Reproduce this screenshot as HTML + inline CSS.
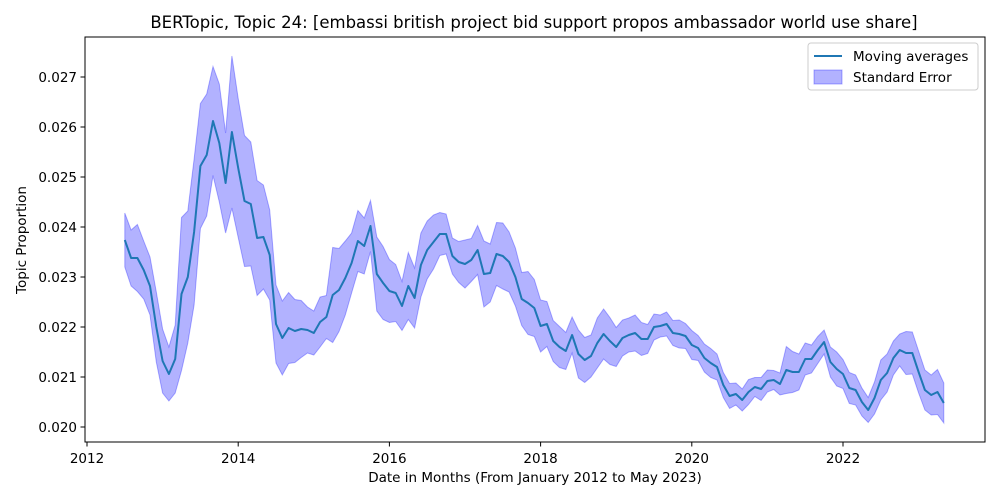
<!DOCTYPE html>
<html><head><meta charset="utf-8"><style>
html,body{margin:0;padding:0;background:#fff;}
svg{display:block;font-family:"DejaVu Sans","Liberation Sans",sans-serif;}
</style></head><body>
<svg id="chart" width="1000" height="500" viewBox="0 0 1000 500">
<rect x="0" y="0" width="1000" height="500" fill="#fff"/>
<text x="534" y="28" font-size="16.5" text-anchor="middle">BERTopic, Topic 24: [embassi british project bid support propos ambassador world use share]</text>
<g id="plot"></g>
<rect x="85" y="37" width="900" height="405" fill="none" stroke="#000" stroke-width="1"/>
<g id="xticks"></g>
<g id="yticks"></g>
<text x="535" y="482" font-size="13.5" text-anchor="middle">Date in Months (From January 2012 to May 2023)</text>
<text transform="translate(26,240) rotate(-90)" font-size="13.5" text-anchor="middle">Topic Proportion</text>
<g>
<rect x="808" y="43" width="170" height="47" rx="3" fill="#fff" fill-opacity="0.8" stroke="#ccc"/>
<line x1="814" y1="56" x2="842" y2="56" stroke="#1f77b4" stroke-width="2"/>
<text x="853" y="61" font-size="13.5">Moving averages</text>
<rect x="814" y="70" width="28" height="14" fill="rgba(0,0,255,0.3)" stroke="rgba(0,0,255,0.3)"/>
<text x="853" y="82" font-size="13.5">Standard Error</text>
</g>
</svg>
<script>
const startYear = 2012, startMonth = 6; // July 2012 (0-based month)
const means = [0.02374,0.02338,0.02338,0.02314,0.02282,0.02200,0.02132,0.02106,0.02136,0.02266,0.02300,0.02390,0.02522,0.02544,0.02612,0.02568,0.02488,0.02590,0.02518,0.02452,0.02446,0.02378,0.02380,0.02344,0.02206,0.02178,0.02198,0.02192,0.02196,0.02194,
0.02188,0.02210,0.02220,0.02264,0.02274,0.02298,0.02328,0.02372,0.02362,0.02402,0.02306,0.02288,0.02272,0.02268,0.02242,0.02282,0.02258,0.02324,0.02354,0.02370,0.02386,0.02386,0.02342,0.02330,0.02326,0.02334,0.02354,0.02306,0.02308,0.02346,0.02342,0.02330,0.02300,0.02256,0.02248,0.02238,0.02202,0.02206,
0.02172,0.02160,0.02152,0.02184,0.02146,0.02134,0.02142,0.02168,0.02186,0.02172,0.02160,0.02178,0.02184,0.02188,0.02176,0.02176,0.02200,0.02202,0.02206,0.02188,0.02186,0.02182,0.02164,0.02158,0.02138,0.02128,0.02120,0.02084,0.02062,0.02066,0.02054,
0.02070,0.02080,0.02076,0.02092,0.02094,0.02086,0.02114,0.02110,0.02110,0.02136,0.02136,0.02154,0.02170,0.02130,0.02116,0.02106,0.02078,0.02074,0.02050,0.02034,0.02058,0.02094,0.02108,0.02138,0.02154,0.02148,0.02148,0.02110,0.02074,0.02064,0.02070,0.02048];
const stderrs = [0.00054,0.00056,0.00067,0.00058,0.00058,0.00070,0.00064,0.00054,0.00068,0.00153,0.00132,0.00146,0.00125,0.00122,0.00109,0.00118,0.00100,0.00152,0.00139,0.00131,0.00124,0.00115,0.00104,0.00090,0.00078,0.00074,0.00071,0.00063,0.00057,0.00046,
0.00044,0.00050,0.00043,0.00095,0.00083,0.00074,0.00060,0.00061,0.00056,0.00051,0.00074,0.00073,0.00063,0.00057,0.00049,0.00067,0.00060,0.00064,0.00058,0.00054,0.00043,0.00040,0.00036,0.00041,0.00048,0.00043,0.00049,0.00066,0.00058,0.00063,0.00066,0.00060,0.00058,0.00053,0.00063,0.00057,0.00052,0.00045,
0.00041,0.00041,0.00037,0.00036,0.00048,0.00045,0.00042,0.00050,0.00050,0.00047,0.00039,0.00036,0.00034,0.00036,0.00033,0.00029,0.00026,0.00022,0.00024,0.00025,0.00028,0.00025,0.00029,0.00025,0.00028,0.00029,0.00026,0.00025,0.00025,0.00022,0.00022,
0.00025,0.00019,0.00023,0.00022,0.00019,0.00022,0.00047,0.00041,0.00036,0.00032,0.00028,0.00027,0.00024,0.00030,0.00034,0.00029,0.00031,0.00030,0.00028,0.00025,0.00032,0.00040,0.00038,0.00034,0.00032,0.00043,0.00042,0.00042,0.00040,0.00040,0.00045,0.00040];
const xTickYears = [2012,2014,2016,2018,2020,2022];
const yTickValues = [0.020,0.021,0.022,0.023,0.024,0.025,0.026,0.027];
const yTickLabels = ["0.020","0.021","0.022","0.023","0.024","0.025","0.026","0.027"];

const NS = "http://www.w3.org/2000/svg";
function xScale(t){ return 87 + (t - 2012) * 75.6; }
function yScale(v){ return 427 - (v - 0.020) * 50000; }
function tOf(i){ return startYear + (startMonth + i) / 12; }

const plot = document.getElementById('plot');
let up = [], lo = [], ln = [];
for (let i = 0; i < means.length; i++) {
  const x = xScale(tOf(i)).toFixed(2);
  up.push(x + ',' + yScale(means[i] + stderrs[i]).toFixed(2));
  lo.unshift(x + ',' + yScale(means[i] - stderrs[i]).toFixed(2));
  ln.push(x + ',' + yScale(means[i]).toFixed(2));
}
const band = document.createElementNS(NS, 'polygon');
band.setAttribute('points', up.concat(lo).join(' '));
band.setAttribute('fill', 'rgba(0,0,255,0.3)');
band.setAttribute('stroke', 'rgba(0,0,255,0.3)');


plot.appendChild(band);
const line = document.createElementNS(NS, 'polyline');
line.setAttribute('points', ln.join(' '));
line.setAttribute('fill', 'none');
line.setAttribute('stroke', '#1f77b4');
line.setAttribute('stroke-width', '2');
line.setAttribute('stroke-linejoin', 'round');


plot.appendChild(line);

const xg = document.getElementById('xticks');
xTickYears.forEach(yr => {
  const x = xScale(yr);
  const t = document.createElementNS(NS, 'line');
  t.setAttribute('x1', x); t.setAttribute('x2', x);
  t.setAttribute('y1', 442); t.setAttribute('y2', 446.5);
  t.setAttribute('stroke', '#000');
  
  
  xg.appendChild(t);
  const l = document.createElementNS(NS, 'text');
  l.setAttribute('x', x); l.setAttribute('y', 463);
  l.setAttribute('font-size', '13.5');
  l.setAttribute('text-anchor', 'middle');
  l.textContent = String(yr);
  
  
  xg.appendChild(l);
});
const yg = document.getElementById('yticks');
yTickValues.forEach((v, k) => {
  const y = yScale(v);
  const t = document.createElementNS(NS, 'line');
  t.setAttribute('x1', 80.5); t.setAttribute('x2', 85);
  t.setAttribute('y1', y); t.setAttribute('y2', y);
  t.setAttribute('stroke', '#000');
  
  
  yg.appendChild(t);
  const l = document.createElementNS(NS, 'text');
  l.setAttribute('x', 77); l.setAttribute('y', y + 5);
  l.setAttribute('font-size', '13.5');
  l.setAttribute('text-anchor', 'end');
  l.textContent = yTickLabels[k];
  
  
  yg.appendChild(l);
});
</script>
</body></html>
